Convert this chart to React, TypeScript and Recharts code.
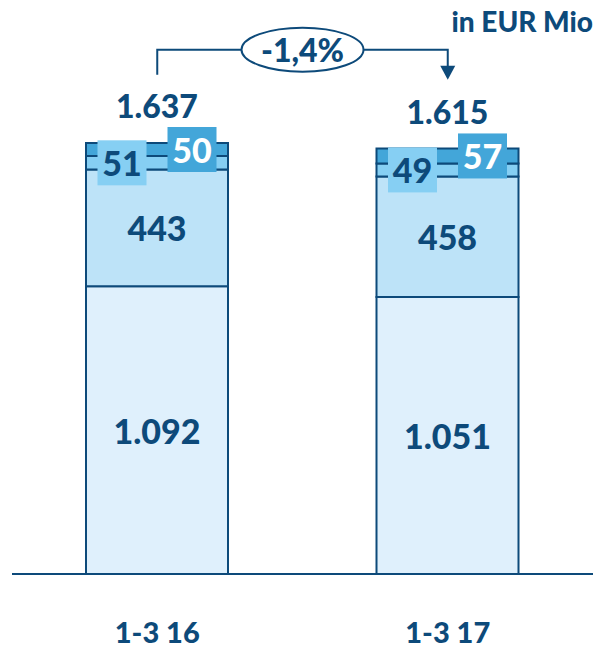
import { BarChart, Bar, XAxis, YAxis, LabelList, ReferenceLine } from 'recharts';

const periods = ['1-3 16', '1-3 17'];
const baseValues = [1092, 1051];
const secondValues = [443, 458];
const thirdValues = [51, 49];
const topValues = [50, 57];
const totals = [1637, 1615];
const changeLabel = '-1,4%';
const unitLabel = 'in EUR Mio';

const data = periods.map((p, i) => ({
  period: p,
  base: baseValues[i],
  second: secondValues[i],
  third: thirdValues[i],
  top: topValues[i],
  total: totals[i],
}));

const NAVY = '#0d4a7a';
const FONT = 'Lato, "Open Sans", sans-serif';
const WEIGHT = 900;

const fmt = (n: number) => String(n).replace(/\B(?=(\d{3})+(?!\d))/g, '.');

const box = (p: any) => p.viewBox ?? p;

// big centred numbers inside the two lower segments
const CenterLabel = (props: any) => {
  const { x, y, width, height } = box(props);
  return (
    <text x={x + width / 2} y={y + height / 2} textAnchor="middle" dominantBaseline="central"
      fontFamily={FONT} fontWeight={WEIGHT} fontSize={34} fill={NAVY}>
      {fmt(Number(props.value))}
    </text>
  );
};

// small segments get a tag box beside the centre
const tagLabel = (dx: number, fill: string, color: string) => (props: any) => {
  const { x, y, width, height } = box(props);
  const cx = x + width / 2 + dx;
  const cy = y + height / 2;
  return (
    <g>
      <rect x={cx - 24.5} y={cy - 22.5} width={49} height={45} fill={fill} />
      <text x={cx} y={cy} textAnchor="middle" dominantBaseline="central"
        fontFamily={FONT} fontWeight={WEIGHT} fontSize={34} fill={color}>
        {props.value}
      </text>
    </g>
  );
};

const TotalLabel = (props: any) => {
  const { x, y, width } = box(props);
  return (
    <text x={x + width / 2} y={y - 37} textAnchor="middle" dominantBaseline="central"
      fontFamily={FONT} fontWeight={WEIGHT} fontSize={32} fill={NAVY}>
      {fmt(Number(props.value))}
    </text>
  );
};

const Bracket = (props: any) => {
  const { x1, y1, x2 } = props;
  const mx = (x1 + x2) / 2;
  return (
    <g>
      <path d={`M${x1},${y1 + 25} V${y1} H${x2} V${y1 + 18}`} fill="none" stroke={NAVY} strokeWidth={2} />
      <path d={`M${x2 - 7.5},${y1 + 16} H${x2 + 7.5} L${x2},${y1 + 30} Z`} fill={NAVY} />
      <ellipse cx={mx} cy={y1} rx={61} ry={22} fill="#fff" stroke={NAVY} strokeWidth={2} />
      <text x={mx} y={y1} textAnchor="middle" dominantBaseline="central"
        fontFamily={FONT} fontWeight={WEIGHT} fontSize={32} fill={NAVY}>
        {changeLabel}
      </text>
    </g>
  );
};

const Tick = (props: any) => {
  const { x, payload } = props;
  return (
    <text x={x} y={631} textAnchor="middle" dominantBaseline="central"
      fontFamily={FONT} fontWeight={WEIGHT} fontSize={29} fill={NAVY}>
      {payload.value}
    </text>
  );
};

export default function App() {
  return (
    <div style={{ position: 'absolute', left: 0, top: 0, width: 598, height: 648, background: '#fff' }}>
      <div style={{ position: 'absolute', right: 5, top: 4, fontFamily: FONT, fontWeight: WEIGHT, fontSize: 28, color: NAVY }}>
        {unitLabel}
      </div>
      <BarChart width={598} height={648} data={data} margin={{ top: 47, right: 5, bottom: 14, left: 12 }}>
        <XAxis dataKey="period" height={60} tickLine={false} axisLine={{ stroke: NAVY, strokeWidth: 2 }} tick={<Tick />} />
        <YAxis hide domain={[0, 2000]} />
        <Bar dataKey="base" stackId="a" fill="#dff0fc" stroke={NAVY} strokeWidth={2} barSize={142} isAnimationActive={false}>
          <LabelList dataKey="base" content={<CenterLabel />} />
        </Bar>
        <Bar dataKey="second" stackId="a" fill="#bde3f8" stroke={NAVY} strokeWidth={2} barSize={142} isAnimationActive={false}>
          <LabelList dataKey="second" content={<CenterLabel />} />
        </Bar>
        <Bar dataKey="third" stackId="a" fill="#86cff3" stroke={NAVY} strokeWidth={2} barSize={142} isAnimationActive={false}>
          <LabelList dataKey="third" content={tagLabel(-35, '#86cff3', NAVY)} />
        </Bar>
        <Bar dataKey="top" stackId="a" fill="#43a6d9" stroke={NAVY} strokeWidth={2} barSize={142} isAnimationActive={false}>
          <LabelList dataKey="top" content={tagLabel(35, '#43a6d9', '#fff')} />
          <LabelList dataKey="total" content={<TotalLabel />} />
        </Bar>
        <ReferenceLine
          segment={[{ x: periods[0], y: 1990 }, { x: periods[1], y: 1990 }]}
          shape={<Bracket />}
          ifOverflow="visible"
        />
      </BarChart>
    </div>
  );
}
